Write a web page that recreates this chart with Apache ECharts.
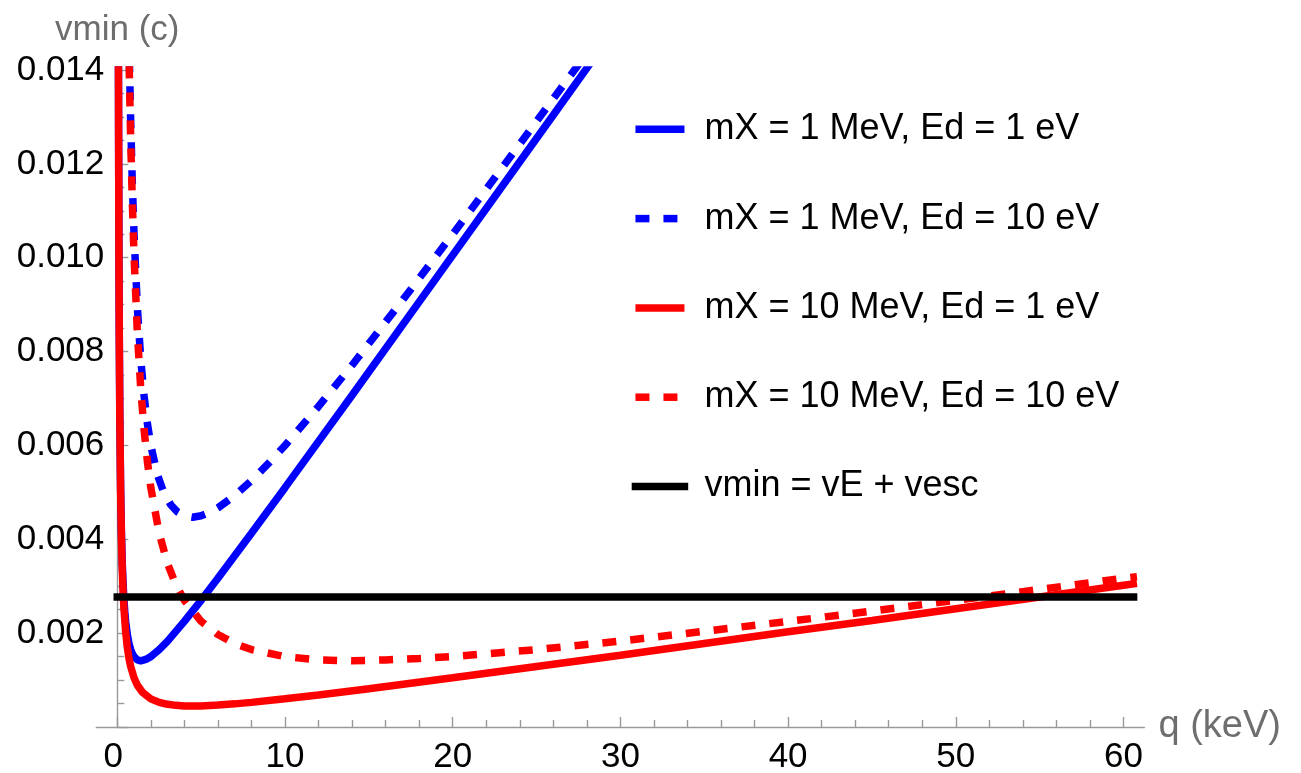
<!DOCTYPE html>
<html>
<head>
<meta charset="utf-8">
<script src="https://cdn.jsdelivr.net/npm/echarts@6/dist/echarts.min.js"></script>
<style>html,body{margin:0;padding:0;background:#fff}#c{width:1301px;height:773px}</style>
</head>
<body>
<div id="c"></div>
<script>
// ---- data ----
const seriesNames = ["mX = 1 MeV, Ed = 1 eV", "mX = 1 MeV, Ed = 10 eV", "mX = 10 MeV, Ed = 1 eV", "mX = 10 MeV, Ed = 10 eV", "vmin = vE + vesc"];

const qBlueSolid = [0.07,0.08,0.1,0.12,0.15,0.2,0.25,0.3,0.35,0.4,0.45,0.5,0.6,0.7,0.8,0.9,1.0,1.2,1.4,1.7,2.0,2.5,3,4,5,6,8,10,14,18,22,26,28.5];
const vBlueSolid = [0.01432,0.01254,0.01005,0.00839,0.00674,0.0051,0.00413,0.00348,0.00303,0.0027,0.00245,0.00225,0.00197,0.00178,0.00165,0.00156,0.0015,0.00143,0.00141,0.00144,0.0015,0.00165,0.00183,0.00225,0.0027,0.00317,0.00413,0.0051,0.00707,0.00906,0.01105,0.01304,0.01429];

const qBlueDashed = [0.72,0.8,0.9,1.0,1.2,1.4,1.6,1.8,2.0,2.4,2.8,3.2,3.6,4.0,4.5,5.0,5.5,6,7,8,9,10,12,14,17,20,24,27.9];
const vBlueDashed = [0.01425,0.0129,0.01156,0.0105,0.00893,0.00784,0.00705,0.00646,0.006,0.00537,0.00497,0.00473,0.00458,0.0045,0.00447,0.0045,0.00457,0.00467,0.00493,0.00525,0.00561,0.006,0.00683,0.00771,0.00909,0.0105,0.01242,0.01431];

const qRedSolid = [0.07,0.08,0.1,0.12,0.15,0.2,0.25,0.3,0.35,0.4,0.5,0.6,0.7,0.8,1.0,1.2,1.5,2.0,2.5,3.0,3.5,4.0,4.5,5,6,7,8,10,12,15,20,25,30,35,40,45,50,55,60,60.8];
const vRedSolid = [0.01429,0.0125,0.01001,0.00834,0.00667,0.00501,0.00401,0.00335,0.00287,0.00252,0.00203,0.0017,0.00146,0.00129,0.00105,0.00089,0.00074,0.0006,0.000525,0.000483,0.000461,0.00045,0.000447,0.00045,0.000467,0.000493,0.000525,0.0006,0.000683,0.000817,0.00105,0.00129,0.00153,0.00178,0.00203,0.00227,0.00252,0.00277,0.00302,0.00306];

const qRedDashed = [0.71,0.75,0.8,0.9,1.0,1.2,1.4,1.6,1.8,2.0,2.5,3,3.5,4,5,6,7,8,10,12,14,16,18,20,25,30,35,40,45,50,55,60,60.8];
const vRedDashed = [0.01412,0.01337,0.01254,0.01116,0.01005,0.00839,0.00721,0.00633,0.00565,0.0051,0.00413,0.00348,0.00303,0.0027,0.00225,0.00197,0.00178,0.00165,0.0015,0.00143,0.00141,0.00143,0.00146,0.0015,0.00165,0.00183,0.00204,0.00225,0.00247,0.0027,0.00293,0.00317,0.0032];

const qEscape = [0, 60.6];
const vEscape = [0.00277, 0.00277];

const xMajorTicks = [0,10,20,30,40,50,60];
const xMinorTicks = [2,4,6,8,12,14,16,18,22,24,26,28,32,34,36,38,42,44,46,48,52,54,56,58];

// ---- chart ----
const FONT = '"Liberation Sans", Arial, Helvetica, sans-serif';
const AXIS_COLOR = '#9a9a9a';
const NAME_COLOR = '#6e6e6e';
const zip = (xs, ys) => xs.map((x, i) => [x, ys[i]]);

const chart = echarts.init(document.getElementById('c'), null, {renderer: 'canvas'});

const lineSeries = (name, xs, ys, color, dashed, cap) => ({
  name: name,
  type: 'line',
  data: zip(xs, ys),
  symbol: 'none',
  showSymbol: false,
  smooth: false,
  clip: true,
  silent: true,
  animation: false,
  lineStyle: {color: color, width: 7.5, type: dashed ? [14, 14] : 'solid', cap: cap || 'butt'},
  itemStyle: {color: color}
});

const option = {
  animation: false,
  backgroundColor: '#fff',
  textStyle: {fontFamily: FONT},
  grid: {left: 96.3, top: 70, width: 1048.2, height: 657, containLabel: false, outerBoundsMode: 'none'},
  legend: {
    show: true,
    orient: 'vertical',
    left: 631.7,
    top: 109.3,
    padding: 0,
    itemWidth: 49,
    itemHeight: 2,
    itemGap: 49.3,
    itemStyle: {opacity: 0, borderWidth: 0},
    lineStyle: {width: 7.5},
    textStyle: {fontFamily: FONT, fontSize: 36, color: '#000', lineHeight: 40, padding: [0, 0, 0, 15]},
    data: seriesNames,
    selectedMode: false
  },
  xAxis: [
    {
      type: 'value', min: -1.25, max: 61.25, position: 'bottom',
      axisLine: {show: true, onZero: false, lineStyle: {color: AXIS_COLOR, width: 1.4}},
      axisTick: {show: true, inside: true, length: 10, customValues: xMajorTicks, lineStyle: {color: AXIS_COLOR, width: 1.4}},
      axisLabel: {
        show: true, customValues: xMajorTicks, fontSize: 35, color: '#000', margin: 13, fontFamily: FONT,
        formatter: v => (v === 0 ? '{z|0}' : String(v)),
        rich: {z: {fontSize: 35, color: '#000', fontFamily: FONT, padding: [0, 8, 0, 0]}}
      },
      splitLine: {show: false},
      name: 'q (keV)', nameLocation: 'end', nameGap: 14,
      nameTextStyle: {fontSize: 38, color: NAME_COLOR, fontFamily: FONT, align: 'left', verticalAlign: 'middle'}
    },
    {
      type: 'value', min: -1.25, max: 61.25, position: 'bottom',
      axisLine: {show: false, onZero: false},
      axisTick: {show: true, inside: true, length: 7, customValues: xMinorTicks, lineStyle: {color: AXIS_COLOR, width: 1.4}},
      axisLabel: {show: false},
      splitLine: {show: false}
    }
  ],
  yAxis: {
    type: 'value', min: 0, max: 0.014, interval: 0.002,
    axisLine: {show: true, onZero: true, onZeroAxisIndex: 0, lineStyle: {color: AXIS_COLOR, width: 1.4}},
    axisTick: {show: true, inside: true, length: 11, lineStyle: {color: AXIS_COLOR, width: 1.4}},
    minorTick: {show: true, splitNumber: 4, length: 7, lineStyle: {color: AXIS_COLOR, width: 1.4}},
    axisLabel: {show: true, fontSize: 35, color: '#000', margin: -8, fontFamily: FONT, showMinLabel: false,
      formatter: v => v.toFixed(3)},
    splitLine: {show: false},
    minorSplitLine: {show: false},
    name: 'vmin (c)', nameLocation: 'end', nameGap: 22,
    nameTextStyle: {fontSize: 35, color: NAME_COLOR, fontFamily: FONT}
  },
  series: [
    lineSeries(seriesNames[0], qBlueSolid, vBlueSolid, '#0000ff', false),
    lineSeries(seriesNames[1], qBlueDashed, vBlueDashed, '#0000ff', true),
    lineSeries(seriesNames[2], qRedSolid, vRedSolid, '#ff0000', false),
    lineSeries(seriesNames[3], qRedDashed, vRedDashed, '#ff0000', true),
    lineSeries(seriesNames[4], qEscape, vEscape, '#000000', false, 'square')
  ]
};
chart.setOption(option);
</script>
</body>
</html>
